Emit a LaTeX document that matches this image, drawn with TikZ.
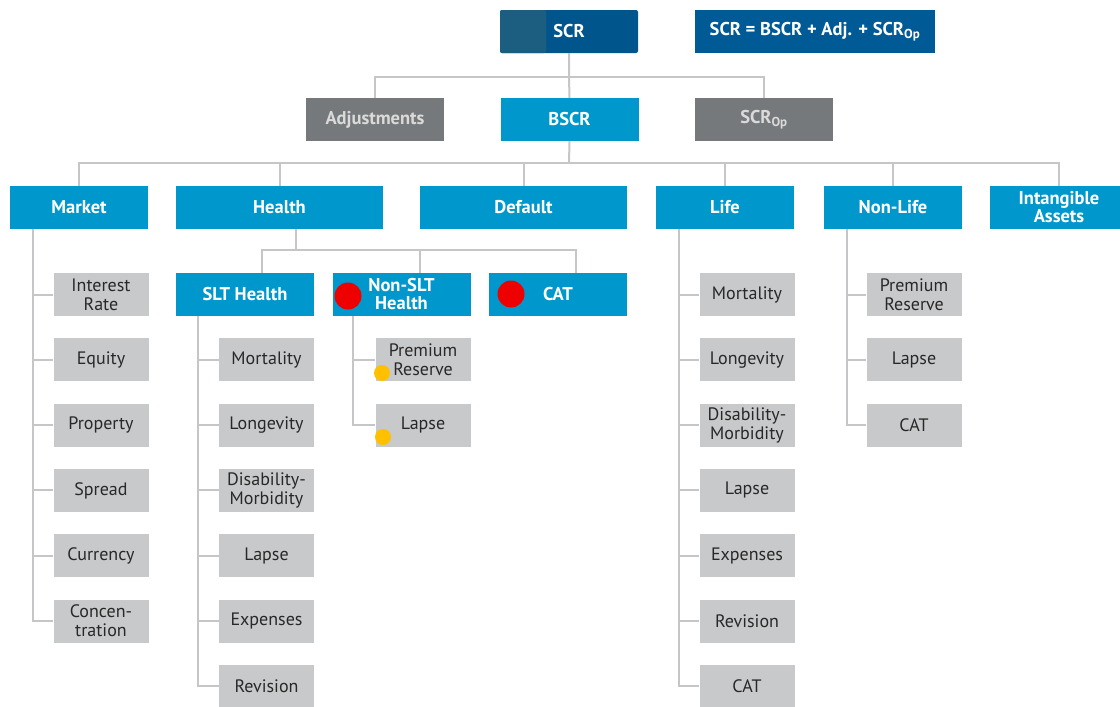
\documentclass[tikz,border=0pt]{standalone}
\usepackage{fontspec}
\setmainfont{PT Sans}
\usetikzlibrary{calc}
\definecolor{cyanbox}{RGB}{0,152,204}
\definecolor{scrdark}{RGB}{0,86,140}
\definecolor{scrleft}{RGB}{28,94,128}
\definecolor{formulabox}{RGB}{0,90,150}
\definecolor{greybox}{RGB}{118,121,123}
\definecolor{greytext}{RGB}{218,218,218}
\definecolor{leaffill}{RGB}{200,201,203}
\definecolor{leaftext}{RGB}{40,40,40}
\definecolor{linecol}{RGB}{196,198,200}
\definecolor{dotred}{RGB}{238,0,0}
\definecolor{dotyellow}{RGB}{255,192,0}
\begin{document}
\begin{tikzpicture}[x=1pt,y=-1pt,
  box/.style={rectangle, inner sep=0pt, minimum height=43pt, align=center},
  bluebox/.style={box, fill=cyanbox, text=white, minimum width=138pt, font=\bfseries\fontsize{18.5}{18}\selectfont},
  widebox/.style={bluebox, minimum width=207pt},
  darkbox/.style={box, fill=scrdark, text=white, minimum width=138pt, font=\bfseries\fontsize{18.5}{18}\selectfont},
  greyboxstyle/.style={box, fill=greybox, text=greytext, minimum width=138pt, font=\bfseries\fontsize{18.5}{18}\selectfont},
  leafbox/.style={box, fill=leaffill, text=leaftext, minimum width=95pt, font=\fontsize{18}{19}\selectfont},
  conn/.style={draw=linecol, line width=2pt},
  reddot/.style={circle, fill=dotred, inner sep=0pt, minimum size=27pt},
  yellowdot/.style={circle, fill=dotyellow, inner sep=0pt, minimum size=16pt}
]
\useasboundingbox (0,0) rectangle (1120,707);

% top level
\node[darkbox, rounded corners=2pt, path picture={\fill[scrleft] (path picture bounding box.north west) rectangle ([xshift=46pt]path picture bounding box.south west);}] (scr) at (569,31.5) {SCR};
\node[box, fill=formulabox, text=white, minimum width=240pt, font=\bfseries\fontsize{18.5}{18}\selectfont] (formula) at (815,31.5) {SCR = BSCR + Adj. + SCR\textsubscript{Op}};

\node[greyboxstyle] (adj) at (375,119.5) {Adjustments};
\node[bluebox] (bscr) at (569.5,119.5) {BSCR};
\node[greyboxstyle] (scrop) at (764,119.5) {SCR\textsubscript{Op}};

% second level
\node[bluebox] (market) at (79,207.5) {Market};
\node[widebox] (health) at (279.5,207.5) {Health};
\node[widebox] (default) at (523.5,207.5) {Default};
\node[bluebox] (life) at (725,207.5) {Life};
\node[bluebox] (nonlife) at (893,207.5) {Non-Life};
\node[bluebox] (intang) at (1059,207.5) {Intangible\\Assets};

% health sub-modules
\node[bluebox] (slt) at (245,294.5) {SLT Health};
\node[bluebox] (nslt) at (401.5,294.5) {Non-SLT\\Health};
\node[bluebox] (hcat) at (558,294.5) {CAT};

% market leaves
\node[leafbox] (mk1) at (101,294.5) {Interest\\Rate};
\node[leafbox] (mk2) at (101,359.8) {Equity};
\node[leafbox] (mk3) at (101,425.1) {Property};
\node[leafbox] (mk4) at (101,490.4) {Spread};
\node[leafbox] (mk5) at (101,555.7) {Currency};
\node[leafbox] (mk6) at (101,621) {Concen-\\tration};

% SLT health leaves
\node[leafbox] (sl1) at (266.5,359.8) {Mortality};
\node[leafbox] (sl2) at (266.5,425.1) {Longevity};
\node[leafbox] (sl3) at (266.5,490.4) {Disability-\\Morbidity};
\node[leafbox] (sl4) at (266.5,555.7) {Lapse};
\node[leafbox] (sl5) at (266.5,621) {Expenses};
\node[leafbox] (sl6) at (266.5,686.3) {Revision};

% Non-SLT health leaves
\node[leafbox] (ns1) at (423,359.8) {Premium\\Reserve};
\node[leafbox] (ns2) at (423,425.1) {Lapse};

% life leaves
\node[leafbox] (lf1) at (747,294.5) {Mortality};
\node[leafbox] (lf2) at (747,359.8) {Longevity};
\node[leafbox] (lf3) at (747,425.1) {Disability-\\Morbidity};
\node[leafbox] (lf4) at (747,490.4) {Lapse};
\node[leafbox] (lf5) at (747,555.7) {Expenses};
\node[leafbox] (lf6) at (747,621) {Revision};
\node[leafbox] (lf7) at (747,686.3) {CAT};

% non-life leaves
\node[leafbox] (nl1) at (914,294.5) {Premium\\Reserve};
\node[leafbox] (nl2) at (914,359.8) {Lapse};
\node[leafbox] (nl3) at (914,425.1) {CAT};

% junction coordinates
\coordinate (j1) at (569,77);
\coordinate (j2) at (569,163);
\coordinate (h0) at (296,250);
\coordinate (h1) at (262,250);
\coordinate (h2) at (420,250);
\coordinate (h3) at (576,250);
\coordinate (mx) at (33,0);
\coordinate (sx) at (198,0);
\coordinate (nx) at (353,0);
\coordinate (lx) at (679,0);
\coordinate (nlx) at (847,0);

% top connectors
\draw[conn] (scr.south) -- (j1) -- (bscr.north);
\draw[conn] (adj.north) |- (j1) -| (scrop.north);
% second level connectors
\draw[conn] (bscr.south) -- (j2);
\draw[conn] (market.north) |- (j2) -| (intang.north);
\draw[conn] (health.north) -- (health.north |- j2);
\draw[conn] (default.north) -- (default.north |- j2);
\draw[conn] (life.north) -- (life.north |- j2);
\draw[conn] (nonlife.north) -- (nonlife.north |- j2);
% health sub-modules
\draw[conn] (health.south -| h0) -- (h0);
\draw[conn] (slt.north -| h1) -- (h1) -- (h3) -- (hcat.north -| h3);
\draw[conn] (h2) -- (nslt.north -| h2);
% market leaves
\draw[conn] (market.south -| mx) |- (mk6.west);
\foreach \n in {mk1,mk2,mk3,mk4,mk5} \draw[conn] (\n.west -| mx) -- (\n.west);
% SLT leaves
\draw[conn] (slt.south -| sx) |- (sl6.west);
\foreach \n in {sl1,sl2,sl3,sl4,sl5} \draw[conn] (\n.west -| sx) -- (\n.west);
% Non-SLT leaves
\draw[conn] (nslt.south -| nx) |- (ns2.west);
\draw[conn] (ns1.west -| nx) -- (ns1.west);
% life leaves
\draw[conn] (life.south -| lx) |- (lf7.west);
\foreach \n in {lf1,lf2,lf3,lf4,lf5,lf6} \draw[conn] (\n.west -| lx) -- (\n.west);
% non-life leaves
\draw[conn] (nonlife.south -| nlx) |- (nl3.west);
\foreach \n in {nl1,nl2} \draw[conn] (\n.west -| nlx) -- (\n.west);

% markers
\node[reddot] (rd1) at (348,296) {};
\node[reddot] (rd2) at (511,294) {};
\node[yellowdot] (yd1) at (382,373) {};
\node[yellowdot] (yd2) at (383,437) {};
\end{tikzpicture}
\end{document}
